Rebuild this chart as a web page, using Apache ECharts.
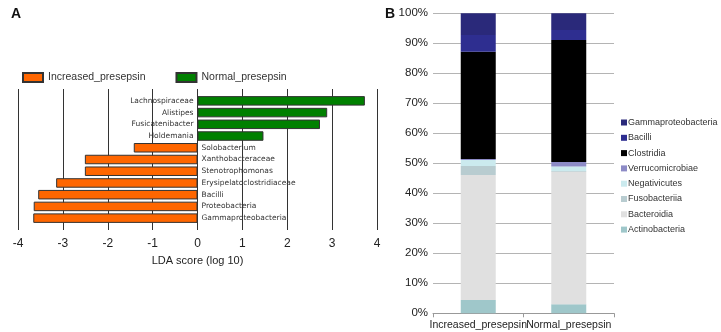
<!DOCTYPE html>
<html>
<head>
<meta charset="utf-8">
<script src="https://cdn.jsdelivr.net/npm/echarts@6/dist/echarts.min.js"></script>
<style>
  html, body { margin: 0; padding: 0; background: #fff; }
  #chart { width: 721px; height: 332px; }
</style>
</head>
<body>
<div id="chart"></div>
<script>
// panel A: LDA scores, top to bottom
const taxa = [
  'Lachnospiraceae', 'Alistipes', 'Fusicatenibacter', 'Holdemania',
  'Solobacterium', 'Xanthobacteraceae', 'Stenotrophomonas',
  'Erysipelatoclostridiaceae', 'Bacilli', 'Proteobacteria', 'Gammaproteobacteria'
]
const normalLda = [3.73, 2.89, 2.73, 1.47, '-', '-', '-', '-', '-', '-', '-']
const increasedLda = ['-', '-', '-', '-', -1.42, -2.51, -2.51, -3.15, -3.55, -3.65, -3.66]
const ldaTicks = [-4, 4]

// panel B: relative abundance (%), bottom to top of the stack
const groups = ['Increased_presepsin', 'Normal_presepsin']
const classes = [
  'Actinobacteria', 'Bacteroidia', 'Fusobacteriia', 'Negativicutes',
  'Verrucomicrobiae', 'Clostridia', 'Bacilli', 'Gammaproteobacteria'
]
const abundance = {
  Actinobacteria: [4.4, 3.0],
  Bacteroidia: [41.7, 44.2],
  Fusobacteriia: [3.0, 0.2],
  Negativicutes: [2.0, 1.5],
  Verrucomicrobiae: [0.3, 1.5],
  Clostridia: [35.8, 40.7],
  Bacilli: [5.6, 3.3],
  Gammaproteobacteria: [7.2, 5.6]
}
const classColors = {
  Actinobacteria: '#9fc7ca',
  Bacteroidia: '#e0e0e0',
  Fusobacteriia: '#b8ccd0',
  Negativicutes: '#cbeaee',
  Verrucomicrobiae: '#8d8bc6',
  Clostridia: '#000000',
  Bacilli: '#2e2e90',
  Gammaproteobacteria: '#2a297a'
}

const chart = echarts.init(document.getElementById('chart'), null, { renderer: 'canvas' })

const ldaLabel = {
  show: true,
  formatter: '{b}',
  fontSize: 7.5,
  fontFamily: 'DejaVu Sans',
  color: '#333',
  distance: 4
}

const stackSeries = classes.map(name => ({
  name,
  type: 'bar',
  stack: 'abund',
  xAxisIndex: 2,
  yAxisIndex: 2,
  barWidth: 35,
  data: abundance[name],
  itemStyle: { color: classColors[name] }
}))

const option = {
  animation: false,
  backgroundColor: '#fff',
  title: [
    { text: 'A', left: 6, top: 2, textStyle: { fontSize: 14, fontWeight: 'bold', color: '#111', fontFamily: 'Liberation Sans' } },
    { text: 'B', left: 380, top: 2, textStyle: { fontSize: 14, fontWeight: 'bold', color: '#111', fontFamily: 'Liberation Sans' } }
  ],
  legend: [
    {
      data: ['Increased_presepsin', 'Normal_presepsin'],
      left: 17,
      top: 67,
      icon: 'rect',
      itemWidth: 20,
      itemHeight: 9,
      itemGap: 30,
      textStyle: { fontSize: 10.5, color: '#333', fontFamily: 'Liberation Sans' }
    },
    {
      data: classes.slice().reverse(),
      orient: 'vertical',
      left: 616,
      top: 112,
      itemWidth: 6,
      itemHeight: 6,
      itemGap: 4.3,
      itemStyle: { borderWidth: 0 },
      icon: 'rect',
      textStyle: { fontSize: 9, lineHeight: 11, color: '#333', fontFamily: 'Liberation Sans', padding: [0, 0, 0, -4] }
    }
  ],
  grid: [
    { left: 18, right: 344, top: 89, bottom: 102 },
    { left: 18, right: 344, top: 95, bottom: 108 },
    { left: 433, right: 107, top: 13.3, bottom: 18.7 }
  ],
  xAxis: [
    {
      gridIndex: 0,
      type: 'value',
      min: ldaTicks[0],
      max: ldaTicks[1],
      interval: 1,
      name: 'LDA score (log 10)',
      nameLocation: 'middle',
      nameGap: 25,
      nameTextStyle: { fontSize: 11, color: '#222', fontFamily: 'Liberation Sans' },
      axisLine: { show: false },
      axisTick: { show: false },
      axisLabel: { fontSize: 12, color: '#222', margin: 8, fontFamily: 'Liberation Sans' },
      splitLine: { show: true, lineStyle: { color: '#333', width: 1 } }
    },
    {
      gridIndex: 1,
      type: 'value',
      min: ldaTicks[0],
      max: ldaTicks[1],
      show: false
    },
    {
      gridIndex: 2,
      type: 'category',
      data: groups,
      axisLine: { lineStyle: { color: '#999' } },
      axisTick: { show: true, length: 4, lineStyle: { color: '#999' } },
      axisLabel: { interval: 0, fontSize: 10.5, color: '#222', margin: 6, fontFamily: 'Liberation Sans' }
    }
  ],
  yAxis: [
    { gridIndex: 0, type: 'value', show: false },
    { gridIndex: 1, type: 'category', data: taxa, inverse: true, show: false },
    {
      gridIndex: 2,
      type: 'value',
      min: 0,
      max: 100,
      interval: 10,
      axisLine: { show: false },
      axisTick: { show: false },
      axisLabel: { formatter: '{value}%', fontSize: 11.5, color: '#222', margin: 5, fontFamily: 'Liberation Sans' },
      splitLine: { lineStyle: { color: '#b4b4b4' } }
    }
  ],
  series: [
    {
      name: 'Increased_presepsin',
      type: 'bar',
      xAxisIndex: 1,
      yAxisIndex: 1,
      barWidth: 9.5,
      barGap: '-100%',
      data: increasedLda,
      itemStyle: { color: '#ff6600', borderColor: '#333', borderWidth: 1 },
      label: Object.assign({ position: 'right' }, ldaLabel)
    },
    {
      name: 'Normal_presepsin',
      type: 'bar',
      xAxisIndex: 1,
      yAxisIndex: 1,
      barWidth: 9.5,
      barGap: '-100%',
      data: normalLda,
      itemStyle: { color: '#008000', borderColor: '#333', borderWidth: 1 },
      label: Object.assign({ position: 'left' }, ldaLabel)
    }
  ].concat(stackSeries)
}

chart.setOption(option)
</script>
</body>
</html>
